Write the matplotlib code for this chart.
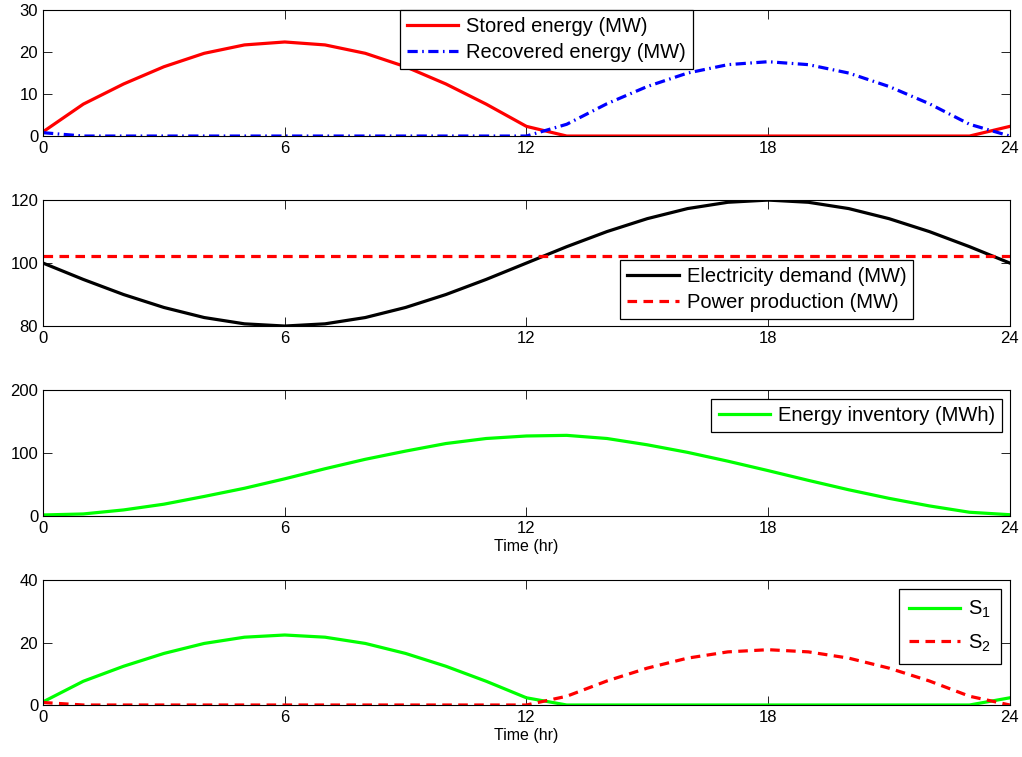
import matplotlib
matplotlib.use("Agg")
import matplotlib.pyplot as plt

plt.rcParams['font.family'] = ['Liberation Sans', 'DejaVu Sans']
plt.rcParams['mathtext.default'] = 'regular'

# Hourly time grid
hours = list(range(25))

# Storage charging / discharging rates (MW)
stored_energy = [1.0, 7.6, 12.4, 16.5, 19.7, 21.7, 22.4, 21.7, 19.7, 16.5, 12.4, 7.6,
                 2.3, 0, 0, 0, 0, 0, 0, 0, 0, 0, 0, 0, 2.3]
recovered_energy = [0.8, 0, 0, 0, 0, 0, 0, 0, 0, 0, 0, 0,
                    0, 2.8, 7.7, 11.8, 15.0, 17.0, 17.7, 17.0, 15.0, 11.8, 7.7, 2.8, 0]

# Grid demand and constant plant output (MW)
electricity_demand = [100, 94.8, 90, 85.9, 82.7, 80.7, 80, 80.7, 82.7, 85.9, 90, 94.8,
                      100, 105.2, 110, 114.1, 117.3, 119.3, 120, 119.3, 117.3, 114.1, 110, 105.2, 100]
power_production = [102.3] * 25

# State of charge (MWh)
energy_inventory = [1.6, 3.2, 9.6, 18.7, 31, 44, 59, 75, 90, 103, 115, 123, 127,
                    128, 123, 113, 101, 87, 72, 56.5, 41.6, 28, 16, 5.9, 2]

x_ticks = [0, 6, 12, 18, 24]

fig = plt.figure(figsize=(10.22, 7.57), dpi=100)
left, width = 0.0421, 0.946
ax1 = fig.add_axes([left, 0.8203, width, 0.1664])
ax2 = fig.add_axes([left, 0.5693, width, 0.1664])
ax3 = fig.add_axes([left, 0.3184, width, 0.1664])
ax4 = fig.add_axes([left, 0.0687, width, 0.1651])

LW = 2.3
dash = (3.0, 2.0)
dashdot = (3.2, 1.4, 0.5, 1.4)

leg_kw = dict(fontsize=14.5, fancybox=False, edgecolor='black', framealpha=1,
              borderpad=0.35, handlelength=2.55, handletextpad=0.4, labelspacing=0.32,
              borderaxespad=0.0)


def style(ax, yticks):
    ax.set_xlim(0, 24)
    ax.set_ylim(yticks[0], yticks[-1])
    ax.set_xticks(x_ticks)
    ax.set_yticks(yticks)
    ax.tick_params(direction='in', top=True, right=True, length=6.5, width=0.6,
                   labelsize=12, pad=3.5)
    for sp in ax.spines.values():
        sp.set_linewidth(0.8)


# Panel 1: storage flows
ax1.plot(hours, stored_energy, color='red', lw=LW, label='Stored energy (MW)')
ax1.plot(hours, recovered_energy, color='blue', lw=LW, dashes=dashdot,
         label='Recovered energy (MW)')
style(ax1, [0, 10, 20, 30])
leg = ax1.legend(loc='upper left', bbox_to_anchor=(0.369, 1.0), **leg_kw)
leg.get_frame().set_linewidth(0.9)

# Panel 2: demand vs production
ax2.plot(hours, electricity_demand, color='black', lw=LW, label='Electricity demand (MW)')
ax2.plot(hours, power_production, color='red', lw=LW, dashes=dash,
         label='Power production (MW)')
style(ax2, [80, 100, 120])
leg = ax2.legend(loc='lower left', bbox_to_anchor=(0.597, 0.056), **leg_kw)
leg.get_frame().set_linewidth(0.9)

# Panel 3: inventory
ax3.plot(hours, energy_inventory, color='#00ff00', lw=LW, label='Energy inventory (MWh)')
style(ax3, [0, 100, 200])
ax3.set_xlabel('Time (hr)', fontsize=11.5, labelpad=2)
leg = ax3.legend(loc='upper right', bbox_to_anchor=(0.992, 0.929), **leg_kw)
leg.get_frame().set_linewidth(0.9)

# Panel 4: S1 / S2
ax4.plot(hours, stored_energy, color='#00ff00', lw=LW, label='S$_1$')
ax4.plot(hours, recovered_energy, color='red', lw=LW, dashes=dash, label='S$_2$')
style(ax4, [0, 20, 40])
ax4.set_xlabel('Time (hr)', fontsize=11.5, labelpad=2)
kw4 = dict(leg_kw)
kw4.update(labelspacing=0.6, borderpad=0.5)
leg = ax4.legend(loc='upper right', bbox_to_anchor=(0.991, 0.928), **kw4)
leg.get_frame().set_linewidth(0.9)

fig.savefig('out.png', dpi=100)
